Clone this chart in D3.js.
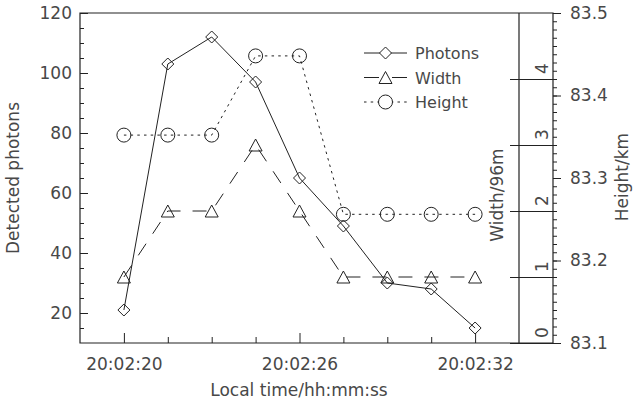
<!DOCTYPE html>
<html>
<head>
<meta charset="utf-8">
<script src="https://cdn.jsdelivr.net/npm/d3@7"></script>
<style>
  body { margin: 0; background: #fff; }
  svg text { font-family: 'DejaVu Sans', sans-serif; fill: #484848; }
</style>
</head>
<body>
<div id="viz"></div>
<script>
// seconds after 20:02:00
const seconds = [20, 21.5, 23, 24.5, 26, 27.5, 29, 30.5, 32];
const photons = [21, 103, 112, 97, 65, 49, 30, 28, 15];
const widths = [1, 2, 2, 3, 2, 1, 1, 1, 1];
const heights = [83.352, 83.352, 83.352, 83.448, 83.448, 83.256, 83.256, 83.256, 83.256];

const timeTicks = [20, 26, 32];
const timeLabels = ['20:02:20', '20:02:26', '20:02:32'];
const timeMinor = [21.5, 23, 24.5, 27.5, 29, 30.5];
const photonTicks = [20, 40, 60, 80, 100, 120];
const widthTicks = [0, 1, 2, 3, 4];
const heightTicks = [83.1, 83.2, 83.3, 83.4, 83.5];

const legendNames = ['Photons', 'Width', 'Height'];

let width = 633;
let height = 401;

const mLeft = 80, mRight = 519, boxRight = 553, mTop = 13, mBottom = 343;

const svg = d3.select('#viz').append('svg')
  .attr('width', width)
  .attr('height', height);

let x = d3.scaleLinear().domain([18.5, 33.5]).range([mLeft, mRight]);
let yP = d3.scaleLinear().domain([10, 120]).range([mBottom, mTop]);
let yW = d3.scaleLinear().domain([0, 5]).range([mBottom, mTop]);
let yH = d3.scaleLinear().domain([83.1, 83.5]).range([mBottom, mTop]);

const ink = '#222';

// frame
svg.append('path')
  .attr('fill', 'none')
  .attr('stroke', ink)
  .attr('stroke-width', 1.2)
  .attr('d', `M${mLeft},${mTop}H${boxRight}V${mBottom}H${mLeft}Z M${mRight},${mTop}V${mBottom}`);

function styleAxis(g) {
  g.select('.domain').remove();
  g.selectAll('line').attr('stroke', ink);
  g.selectAll('text').style('font-size', '17px').attr('fill', '#484848');
}

// left axis
svg.append('g')
  .attr('transform', `translate(${mLeft},0)`)
  .call(d3.axisLeft(yP).tickValues(d3.range(15, 120, 5).filter(v => v % 20 !== 0)).tickSize(-4).tickFormat(''))
  .call(styleAxis);
svg.append('g')
  .attr('transform', `translate(${mLeft},0)`)
  .call(d3.axisLeft(yP).tickValues(photonTicks).tickSize(-8).tickPadding(8))
  .call(styleAxis);

// bottom axis
svg.append('g')
  .attr('transform', `translate(0,${mBottom})`)
  .call(d3.axisBottom(x).tickValues(timeMinor).tickSize(-6).tickFormat(''))
  .call(styleAxis);
svg.append('g')
  .attr('transform', `translate(0,${mBottom})`)
  .call(d3.axisBottom(x).tickValues(timeTicks).tickSize(-10).tickPadding(15)
    .tickFormat((d, i) => timeLabels[i]))
  .call(styleAxis);

// width axis (inside the box)
svg.append('g')
  .attr('transform', `translate(${boxRight},0)`)
  .call(d3.axisLeft(yW).tickValues(widthTicks).tickSize(43).tickFormat(''))
  .call(styleAxis);
svg.append('g')
  .selectAll('text')
  .data(widthTicks)
  .join('text')
  .attr('transform', d => `translate(548,${yW(d) - 5}) rotate(-90)`)
  .style('font-size', '17px')
  .text(d => d);

// height axis
svg.append('g')
  .attr('transform', `translate(${boxRight},0)`)
  .call(d3.axisRight(yH).tickValues(d3.range(0, 41).map(i => 83.1 + i * 0.01)).tickSize(4).tickFormat(''))
  .call(styleAxis);
svg.append('g')
  .attr('transform', `translate(${boxRight},0)`)
  .call(d3.axisRight(yH).tickValues(heightTicks).tickSize(8).tickPadding(9).tickFormat(d3.format('.1f')))
  .call(styleAxis);

// titles
svg.append('text')
  .attr('transform', 'translate(19,178) rotate(-90)')
  .attr('text-anchor', 'middle')
  .style('font-size', '17px')
  .text('Detected photons');
svg.append('text')
  .attr('transform', 'translate(503,195) rotate(-90)')
  .attr('text-anchor', 'middle')
  .style('font-size', '17px')
  .text('Width/96m');
svg.append('text')
  .attr('transform', 'translate(628,177) rotate(-90)')
  .attr('text-anchor', 'middle')
  .style('font-size', '17px')
  .text('Height/km');
svg.append('text')
  .attr('x', 299)
  .attr('y', 396)
  .attr('text-anchor', 'middle')
  .style('font-size', '17px')
  .text('Local time/hh:mm:ss');

// symbols
const diamond = 'M0,-6L6,0L0,6L-6,0Z';
const triangle = 'M-6.5,6L0,-6L6.5,6Z';
const circle = 'M7,0A7,7 0 1,1 -7,0A7,7 0 1,1 7,0Z';

const series = [
  { name: 'Photons', values: photons, y: yP, dash: null, sym: diamond, legendDash: null },
  { name: 'Width', values: widths, y: yW, dash: '14,12', sym: triangle, legendDash: '15,13' },
  { name: 'Height', values: heights, y: yH, dash: '2.5,4.2', sym: circle, legendDash: '2.5,4.2' }
];

for (let s of series) {
  const line = d3.line()
    .x((d, i) => x(seconds[i]))
    .y(d => s.y(d));

  svg.append('path')
    .datum(s.values)
    .attr('fill', 'none')
    .attr('stroke', ink)
    .attr('stroke-width', 1)
    .attr('stroke-dasharray', s.dash)
    .attr('d', line);

  svg.append('g')
    .selectAll('path')
    .data(s.values)
    .join('path')
    .attr('transform', (d, i) => `translate(${x(seconds[i])},${s.y(d)})`)
    .attr('fill', 'none')
    .attr('stroke', ink)
    .attr('stroke-width', 1)
    .attr('d', s.sym);
}

// legend
const legend = svg.append('g')
  .selectAll('g')
  .data(series)
  .join('g')
  .attr('transform', (d, i) => `translate(364,${53 + i * 24.5})`);

legend.append('line')
  .attr('x1', 0)
  .attr('x2', 43)
  .attr('stroke', ink)
  .attr('stroke-dasharray', d => d.legendDash);
legend.append('path')
  .attr('transform', 'translate(21.5,0)')
  .attr('fill', '#fff')
  .attr('stroke', ink)
  .attr('d', d => d.sym);
legend.append('text')
  .attr('x', 51)
  .attr('y', 6)
  .style('font-size', '16px')
  .text((d, i) => legendNames[i]);
</script>
</body>
</html>
